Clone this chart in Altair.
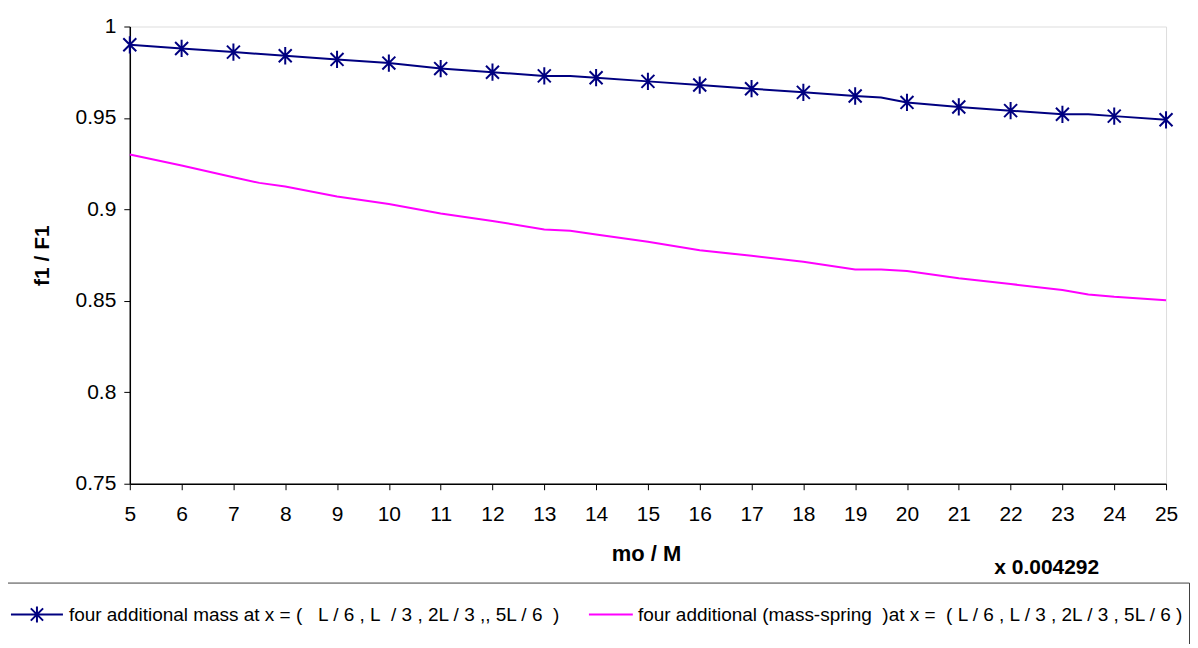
import altair as alt
import pandas as pd

# ---- data ----
x_int = [5, 6, 7, 8, 9, 10, 11, 12, 13, 14, 15, 16, 17, 18, 19, 20, 21, 22, 23, 24, 25]
mass_vals = [0.990, 0.988, 0.986, 0.984, 0.982, 0.980, 0.977, 0.975, 0.973, 0.972,
             0.970, 0.968, 0.966, 0.964, 0.962, 0.9585, 0.956, 0.954, 0.952, 0.951, 0.949]
# extra line vertices (kinks visible between markers)
mass_line_x = x_int + [13.5, 19.5, 23.5]
mass_line_y = mass_vals + [0.973, 0.9612, 0.952]

spring_x = [5, 6, 7, 7.5, 8, 9, 10, 11, 12, 13, 13.5, 14, 15, 16, 17, 18, 19, 19.5,
            20, 21, 22, 23, 23.5, 24, 25]
spring_y = [0.930, 0.924, 0.9176, 0.9145, 0.9125, 0.907, 0.903, 0.8977, 0.8937, 0.889,
            0.8883, 0.8863, 0.8823, 0.8777, 0.8746, 0.8714, 0.8672, 0.8672, 0.8663,
            0.8623, 0.8592, 0.8559, 0.8535, 0.8522, 0.8503]

NB = "\u00a0"
series_names = [
    "four additional mass at x = (" + NB * 3 + "L / 6 , L" + NB * 2 + "/ 3 , 2L / 3 ,, 5L / 6" + NB * 2 + ")",
    "four additional (mass-spring" + NB * 2 + ")at x =" + NB * 2 + "( L / 6 , L / 3 , 2L / 3 , 5L / 6 )",
]
series_colors = ["#000080", "#FF00FF"]
x_ticks = list(range(5, 26))
y_ticks = [0.75, 0.8, 0.85, 0.9, 0.95, 1.0]

FONT = "Liberation Sans, Arial, sans-serif"

mass_line_df = pd.DataFrame({"x": mass_line_x, "y": mass_line_y})
spring_df = pd.DataFrame({"x": spring_x, "y": spring_y})
marker_df = pd.DataFrame({"x": x_int, "y": mass_vals})
legend_df = pd.DataFrame({"series": series_names})

ASTERISK = "M0,-1V1M-0.75,-0.75L0.75,0.75M-0.75,0.75L0.75,-0.75"
BOUNDS = "M0,-1L0,-1M0,1L0,1"
LEG_MASS = ("M-0.93,0H0.93M0,-0.29V0.29M-0.22,-0.22L0.22,0.22"
            "M-0.22,0.22L0.22,-0.22" + BOUNDS)
LEG_SPRING = "M-0.61,0H0.96" + BOUNDS

xscale = alt.Scale(domain=[5, 25], nice=False, zero=False)
yscale = alt.Scale(domain=[0.75, 1.0], nice=False, zero=False)

x_axis = alt.Axis(
    values=x_ticks, format="d", grid=False, tickSize=6, tickColor="#000000",
    domainColor="#000000", domainWidth=1.5, labelFont=FONT, labelFontSize=21,
    labelColor="#000000", labelPadding=14, labelFlush=False, title="mo / M",
    titleFont=FONT, titleFontSize=22, titleFontWeight="bold", titleColor="#000000",
    titleX=517, titleY=70, titleBaseline="middle",
)
y_axis = alt.Axis(
    values=y_ticks, format=".2~f", grid=False, tickSize=6, tickColor="#000000",
    domainColor="#000000", domainWidth=1.5, labelFont=FONT, labelFontSize=21,
    labelColor="#000000", labelPadding=8, labelFlush=False, title="f1 / F1",
    titleFont=FONT, titleFontSize=21, titleFontWeight="bold", titleColor="#000000",
    titleX=-87, titleY=229, titleBaseline="middle", titleAngle=270,
)

spring_line = alt.Chart(spring_df).mark_line(strokeWidth=2, color=series_colors[1]).encode(
    x=alt.X("x:Q", scale=xscale, axis=x_axis),
    y=alt.Y("y:Q", scale=yscale, axis=y_axis),
)

mass_line = alt.Chart(mass_line_df).mark_line(strokeWidth=2, color=series_colors[0]).encode(
    x=alt.X("x:Q", scale=xscale),
    y=alt.Y("y:Q", scale=yscale),
)

markers = alt.Chart(marker_df).mark_point(
    shape=ASTERISK, size=300, filled=False, strokeWidth=2, opacity=1,
    color=series_colors[0],
).encode(
    x=alt.X("x:Q", scale=xscale),
    y=alt.Y("y:Q", scale=yscale),
)

legend_props = dict(
    title=None, orient="none", legendX=-125, legendY=557,
    direction="horizontal", columns=2, columnPadding=15,
    symbolSize=3136, symbolStrokeWidth=2, symbolOpacity=1,
    labelFont=FONT, labelFontSize=19, labelColor="#000000",
    labelLimit=1000, labelOffset=3, padding=3,
    strokeColor="#404040",
)

legend_layer = alt.Chart(legend_df).mark_point(
    filled=False, opacity=0, size=3136
).encode(
    x=alt.value(0),
    y=alt.value(0),
    color=alt.Color(
        "series:N", scale=alt.Scale(domain=series_names, range=series_colors),
        legend=alt.Legend(**legend_props),
    ),
    shape=alt.Shape(
        "series:N",
        scale=alt.Scale(domain=series_names, range=[LEG_MASS, LEG_SPRING]),
        legend=alt.Legend(**legend_props),
    ),
)

chart = (
    alt.layer(spring_line, mass_line, markers, legend_layer)
    .properties(
        width=1038, height=458,
        autosize=alt.AutoSizeParams(type="none"),
        padding={"left": 122, "top": 18, "right": 24, "bottom": 160},
        title=alt.TitleParams(
            "x 0.004292", orient="top", anchor="end", frame="group",
            font=FONT, fontSize=21, fontWeight="bold", color="#000000",
            dx=-67, dy=591, offset=0, baseline="middle",
        ),
    )
    .configure_view(stroke="#808080", strokeWidth=2)
    .configure(background="white")
)

chart.save("out.html", embed_options={"renderer": "svg", "actions": False})
